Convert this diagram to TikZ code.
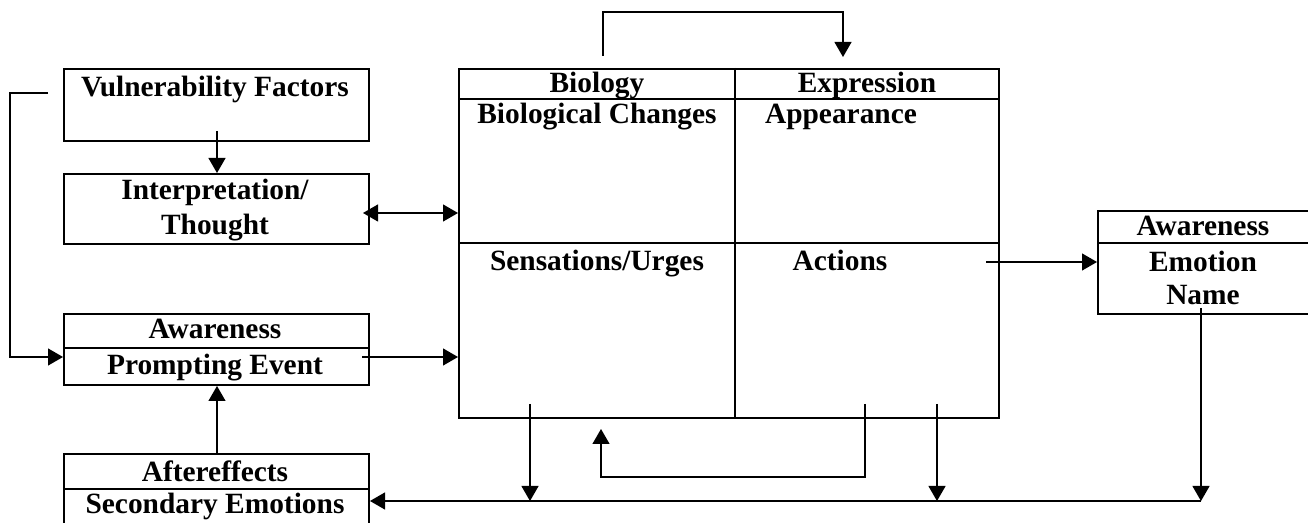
\documentclass[tikz,border=0pt]{standalone}
\usepackage{fontspec}
\setmainfont{Liberation Serif}
\usepackage{tikz}
\usetikzlibrary{arrows.meta, calc, positioning}

\tikzset{
    box/.style={draw, line width=1pt, inner sep=0pt, anchor=north west},
    lbl/.style={font=\fontsize{14.7}{17}\selectfont\bfseries, inner sep=0pt, anchor=base},
    link/.style={line width=0.6pt, -{Triangle[length=7.5pt, width=8.5pt]}},
    twolink/.style={line width=0.6pt, {Triangle[length=7.5pt, width=8.5pt]}-{Triangle[length=7.5pt, width=8.5pt]}},
    plain/.style={line width=0.6pt},
}

\begin{document}
\begin{tikzpicture}[x=0.5pt, y=-0.5pt]
                    \useasboundingbox (0, 0) rectangle (1308, 523);

                    % left column boxes
                    \node[box, minimum width=152.5pt, minimum height=36pt] (vul) at (63, 68) {};
                    \node[box, minimum width=152.5pt, minimum height=35pt] (interp) at (63, 173) {};
                    \node[box, minimum width=152.5pt, minimum height=35.5pt] (prompt) at (63, 313) {};
                    \node[box, minimum width=152.5pt, minimum height=40pt] (after) at (63, 453) {};

                    % table and emotion box
                    \node[box, minimum width=270pt, minimum height=174.5pt] (table) at (458, 68) {};
                    \node[box, minimum width=112pt, minimum height=51.5pt] (emo) at (1097, 210) {};

                    \draw[line width=1pt]
                    (prompt.west |- 0, 348) -- (prompt.east |- 0, 348)
                    (after.west |- 0, 489) -- (after.east |- 0, 489)
                    (emo.west |- 0, 243) -- (emo.east |- 0, 243)
                    (table.west |- 0, 99) -- (table.east |- 0, 99)
                    (table.west |- 0, 243) -- (table.east |- 0, 243)
                    (735, 68) -- (735, 417);

                    \node[lbl] (vultxt) at (215, 97) {Vulnerability Factors};
                    \node[lbl] (interptxt) at (215, 200) {Interpretation/};
                    \node[lbl] (thoughttxt) at (215, 235) {Thought};
                    \node[lbl] (awaretxt) at (215, 339) {Awareness};
                    \node[lbl] (prompttxt) at (215, 375) {Prompting Event};
                    \node[lbl] (aftertxt) at (215, 482) {Aftereffects};
                    \node[lbl] (secondtxt) at (215, 514) {Secondary Emotions};

                    \node[lbl] (biotxt) at (597, 93) {Biology};
                    \node[lbl] (exprtxt) at (867, 93) {Expression};
                    \node[lbl] (changetxt) at (597, 124) {Biological Changes};
                    \node[lbl] (appeartxt) at (841, 124) {Appearance};
                    \node[lbl] (sensetxt) at (597, 271) {Sensations/Urges};
                    \node[lbl] (actiontxt) at (840, 271) {Actions};

                    \node[lbl] (emoaware) at (1203, 236) {Awareness};
                    \node[lbl] (emotxt) at (1203, 272) {Emotion};
                    \node[lbl] (nametxt) at (1203, 305) {Name};

                    % free ends
                    \coordinate (vulout) at (48, 93);
                    \coordinate (vuldown) at (217, 131);
                    \coordinate (thinkend) at (363, 213);
                    \coordinate (promptout) at (362, 357);
                    \coordinate (bioup) at (603, 56);
                    \coordinate (exprin) at (843, 57);
                    \coordinate (actout) at (986, 262);
                    \coordinate (senseout) at (530, 404);
                    \coordinate (actloop) at (865, 404);
                    \coordinate (loopend) at (601, 429);
                    \coordinate (actdown) at (937, 404);
                    \coordinate (nameout) at (1201, 308);
                    \coordinate (busleft) at (433, 501);

                    \draw[link] (vulout) -- (10, 93) -- (10, 357) -- (prompt.west |- 0, 357);
                    \draw[link] (vuldown) -- (interp.north -| vuldown);
                    \draw[twolink] (thinkend) -- (table.west |- thinkend);
                    \draw[link] (promptout) -- (table.west |- promptout);
                    \draw[link] (after.north -| 217, 0) -- (prompt.south -| 217, 0);
                    \draw[link] (bioup) -- (603, 12) -- (843, 12) -- (exprin);
                    \draw[link] (actout) -- (emo.west |- actout);

                    \draw[link] (senseout) -- (senseout |- busleft);
                    \draw[link] (actdown) -- (actdown |- busleft);
                    \draw[link] (nameout) -- (nameout |- busleft);
                    \draw[link] (actloop) -- (865, 477) -- (601, 477) -- (loopend);
                    \draw[plain] (nameout |- busleft) -- (busleft);
                    \draw[link] (busleft) -- (after.east |- busleft);
                \end{tikzpicture}
\end{document}
